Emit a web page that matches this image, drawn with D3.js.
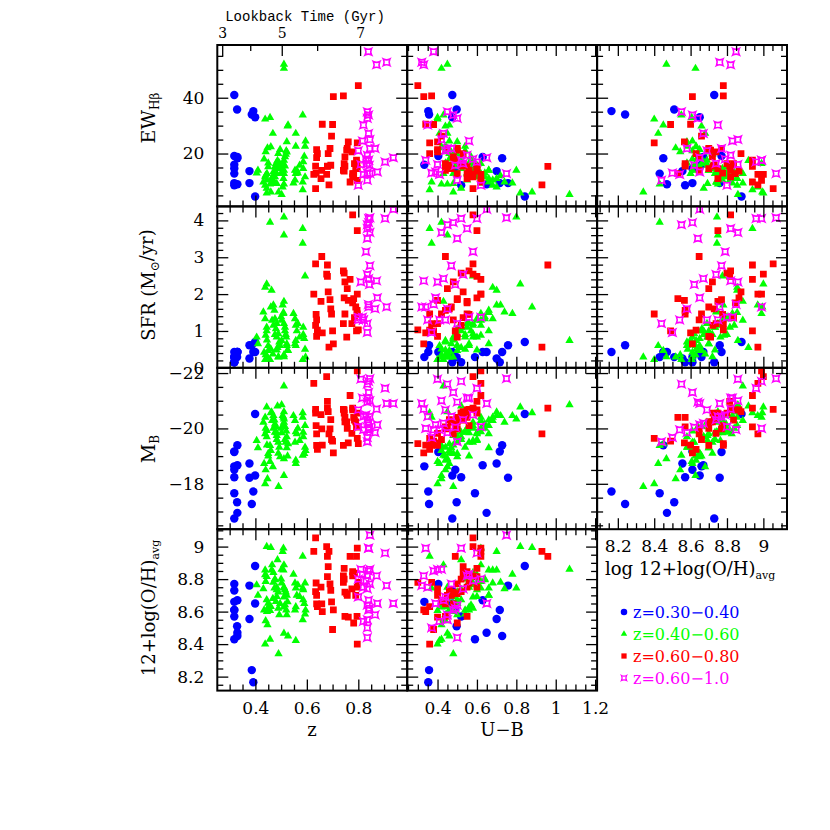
<!DOCTYPE html>
<html>
<head>
<meta charset="utf-8">
<script src="https://cdn.jsdelivr.net/npm/d3@7"></script>
<style>
  body { margin: 0; background: #fff; }
  text { font-family: "DejaVu Serif", serif; fill: #000; }
</style>
</head>
<body>
<div id="chart"></div>
<script>
// ---- data (one entry per galaxy, same index across arrays) ----
var blueZ   = [0.399,0.392,0.386,0.318,0.329,0.399,0.318,0.318,0.377,0.33,0.318,0.377,0.318,0.33,0.318,0.318,0.33];
var blueUB  = [0.843,0.353,0.357,0.475,0.497,0.475,0.404,0.333,0.70,0.728,0.716,0.758,0.59,0.649,0.52,0.49,0.629];
var blueOH  = [8.88,8.165,8.24,8.73,8.51,8.65,8.77,8.66,8.555,8.45,8.61,8.76,8.43,8.47,8.57,8.61,8.67];
var blueEW  = [4.6,35.2,34.0,41.0,35.8,33.0,19.1,16.0,13.7,18.3,9.4,9.4,12.8,9.0,8.6,14.6,18.8];
var blueSFR = [0.70,0.43,0.61,0.15,0.29,0.43,0.43,0.29,0.25,0.43,0.15,0.61,0.29,0.43,0.15,0.29,0.43];
var blueMB  = [-20.52,-17.72,-17.27,-16.75,-17.33,-18.30,-19.15,-18.63,-18.73,-19.39,-19.17,-18.22,-17.66,-16.95,-18.24,-18.51,-18.67];

var greenZ = [0.444,0.438,0.431,0.438,0.44,0.444,0.405,0.444,0.41,0.445,0.45,0.45,0.434,0.44,0.447,0.438,
  0.457,0.46,0.463,0.465,0.47,0.47,0.474,0.476,0.476,0.48,0.483,0.483,0.483,0.486,0.489,0.489,0.493,0.496,0.46,0.468,0.457,0.49,
  0.511,0.502,0.511,0.511,0.506,0.509,0.509,0.50,0.502,0.511,0.515,0.515,0.518,0.52,0.522,0.522,0.525,0.527,0.511,0.511,
  0.548,0.584,0.554,0.584,0.557,0.593,0.561,0.565,0.572,0.586,0.554,0.586,0.59,0.593,0.557,0.595,0.557,0.584];
var greenUB = [0.82,0.68,0.74,0.60,0.62,0.55,0.58,0.52,0.66,0.48,0.50,0.56,0.46,0.44,0.42,0.40,
  0.42,0.88,0.70,0.62,0.72,0.58,0.66,0.54,0.64,0.50,0.60,0.56,0.48,0.52,0.58,0.46,0.44,0.50,0.42,0.45,0.40,0.48,
  0.43,1.07,0.45,0.80,0.70,0.66,0.62,0.64,0.60,0.58,0.52,0.57,0.50,0.54,0.47,0.50,0.44,0.46,0.42,0.45,
  0.78,0.36,0.68,0.37,0.62,0.58,0.66,0.55,0.60,0.52,0.56,0.50,0.48,0.54,0.44,0.46,0.41,0.43];
var greenOH = [9.0,8.856,8.74,8.826,8.785,8.816,8.764,8.672,8.7,8.6,8.651,8.627,8.61,8.543,8.518,8.40,
  8.43,8.994,8.856,8.887,8.78,8.84,8.744,8.8,8.795,8.662,8.734,8.75,8.693,8.918,8.62,8.72,8.58,8.65,8.631,8.68,8.606,8.34,
  8.887,8.86,8.75,8.745,8.969,8.856,8.99,8.8,8.775,8.69,8.734,8.641,8.72,8.61,8.7,8.58,8.66,8.45,8.627,8.467,
  8.83,8.94,8.775,8.745,8.744,8.775,8.7,8.764,8.693,8.734,8.61,8.672,8.65,8.584,8.63,8.61,8.422,8.549];
var greenEW = [5.8,8.6,9.8,11.6,12.2,10.5,13.0,7.5,14.0,12.8,15.2,16.6,18.0,20.6,22.0,32.3,
  9.0,6.2,11.0,9.4,12.0,13.4,9.8,15.2,11.6,16.4,12.8,14.6,9.2,17.5,15.4,20.0,16.6,21.4,22.4,27.2,32.9,6.2,
  12.8,5.3,9.0,14.0,8.0,11.0,16.4,13.0,14.6,17.6,15.5,18.8,19.7,21.0,20.5,24.2,29.8,30.2,50.5,52.0,
  9.4,7.0,10.5,9.8,12.8,11.6,14.0,13.0,15.8,14.6,14.0,17.0,19.0,22.6,22.6,24.5,27.2,33.8];
var greenSFR = [2.27,2.18,1.51,1.33,0.88,1.1,0.83,1.0,0.65,0.75,0.47,0.6,0.42,0.35,0.29,0.22,
  3.95,1.65,2.10,1.29,1.7,1.15,1.56,0.9,1.33,1.06,0.48,1.2,0.83,0.55,0.92,0.3,0.7,0.6,0.51,0.37,0.22,0.29,
  1.8,0.74,3.60,4.09,1.7,1.5,1.47,1.38,1.29,1.2,1.10,1.0,0.9,0.83,0.65,0.6,0.48,0.47,0.35,0.3,
  1.47,3.78,1.33,3.38,1.15,2.49,1.0,1.2,0.83,1.1,0.65,0.9,0.79,0.5,0.74,0.29,0.6,0.22];
var greenMB = [-20.77,-20.4,-20.22,-19.8,-20.0,-19.92,-19.56,-19.7,-19.3,-19.4,-19.09,-19.0,-18.73,-18.5,-18.18,-18.0,
  -19.38,-20.56,-20.59,-20.28,-20.46,-20.0,-20.3,-19.86,-20.16,-20.07,-19.6,-19.84,-19.74,-20.81,-19.5,-19.1,-19.32,-18.97,-19.2,-18.61,-18.8,-17.9,
  -21.53,-20.85,-20.6,-20.34,-20.46,-20.1,-20.4,-20.0,-19.84,-20.22,-19.6,-20.07,-19.5,-19.9,-19.3,-19.7,-19.0,-19.44,-18.30,-18.9,
  -20.46,-20.56,-20.28,-20.4,-19.88,-20.1,-19.8,-20.0,-19.56,-19.86,-19.5,-19.7,-19.09,-19.32,-18.85,-19.2,-18.73,-19.03];

var redZ = [0.627,0.634,0.634,0.636,0.638,0.638,0.641, 0.655,0.658,0.66,
  0.677,0.68,0.68,0.683,0.686,0.69,0.693,0.696,0.70,0.703,
  0.768,0.742,0.745,0.745,0.748,0.748,0.755,0.757,0.761,0.742,
  0.796,0.778,0.778,0.796,0.782,0.785,0.79,0.793,0.795,0.775,0.796,0.80];
var redUB = [0.62,0.58,0.52,0.56,0.48,0.40,0.36, 0.55,0.44,0.34,
  0.58,0.96,0.60,0.53,0.93,0.50,0.46,0.42,0.38,0.33,
  0.62,0.56,0.60,0.52,0.55,0.48,0.50,0.45,0.40,0.37,
  0.62,0.58,0.55,0.60,0.50,0.53,0.47,0.49,0.44,0.40,0.36,0.30];
var redOH = [8.97,9.054,8.723,8.776,8.647,8.7,8.63, 8.75,8.647,8.6,
  9.0,8.94,8.815,8.877,8.97,8.77,8.73,8.66,8.49,8.61,
  8.94,8.82,8.866,8.80,8.57,8.72,8.71,8.70,8.566,8.78,
  8.99,8.82,8.846,8.75,8.53,8.836,8.70,8.94,8.57,8.74,8.40,8.78];
var redEW = [12.5,7.4,15.5,13.0,18.5,21.4,20.0, 11.0,14.0,30.5,
  12.5,15.4,15.5,20.0,8.8,21.8,15.8,26.2,30.4,40.4,
  9.8,14.0,13.7,16.4,15.5,18.8,21.2,21.8,24.2,40.7,
  10.4,11.6,12.8,14.6,12.8,16.4,14.6,17.6,16.4,20.6,23.8,44.3];
var redSFR = [2.0,2.82,1.15,1.45,1.3,0.85,1.02, 1.8,3.02,0.95,
  2.54,2.79,2.48,2.06,0.56,1.85,1.6,1.46,1.0,0.65,
  2.4,2.63,1.9,2.57,1.46,2.33,0.83,2.15,1.83,1.2,
  2.0,4.15,1.76,3.72,1.88,1.36,1.65,1.0,1.56,1.2,1.46,1.03];
var redMB = [-21.63,-20.69,-20.55,-20.1,-19.8,-19.39,-19.24, -20.5,-19.98,-19.4,
  -21.87,-20.73,-20.98,-20.61,-19.8,-19.98,-20.32,-19.6,-19.54,-19.12,
  -21.19,-20.69,-20.67,-20.55,-20.4,-20.24,-20.24,-20.0,-19.48,-19.39,
  -22.08,-20.73,-20.67,-20.55,-20.4,-20.3,-20.24,-20.06,-20.06,-19.82,-19.64,-19.45];

var magZ   = [0.845,0.81,0.84,0.835,0.904,0.84,0.816,0.835,0.845,0.835,0.91,0.936,0.871,0.80,0.83,0.82,0.845,0.835,0.84,0.874,0.80,0.843,0.84,0.82,0.839,0.865,0.835,0.835];
var magUB  = [0.75,0.40,0.52,0.45,0.60,0.48,0.56,0.55,0.42,0.50,0.32,0.65,0.33,0.44,0.58,0.35,0.47,0.53,0.43,0.39,0.62,0.49,0.34,0.41,0.38,0.45,0.37,0.50];
var magOH  = [9.07,8.86,8.99,8.55,8.96,8.61,8.83,8.82,8.86,8.64,8.76,8.65,8.82,8.69,8.79,8.75,8.77,8.74,8.67,8.65,8.80,8.62,8.99,8.54,8.85,8.58,8.50,8.44];
var magEW  = [12.8,16.1,17.6,35.0,17.0,33.8,24.5,19.4,25.0,32.6,52.7,18.5,51.8,21.0,18.0,30.2,21.8,16.4,27.2,13.4,8.6,15.8,17.6,12.5,56.5,21.8,13.0,10.4];
var magSFR = [4.07,2.33,4.05,3.88,4.05,3.94,1.37,3.78,3.67,3.51,1.65,4.30,2.36,1.30,3.15,1.30,2.77,2.53,2.42,1.90,1.37,2.26,1.65,1.30,1.72,1.60,0.96,1.20];
var magMB  = [-21.8,-21.78,-21.7,-21.6,-21.45,-21.3,-21.1,-21.1,-21.0,-20.95,-20.9,-20.9,-20.7,-20.67,-20.49,-20.43,-20.43,-20.31,-20.19,-20.13,-20.06,-20.04,-20.0,-19.95,-19.95,-19.85,-19.67,-19.52];

var legendLabels = ['z=0.30\u22120.40', 'z=0.40\u22120.60', 'z=0.60\u22120.80', 'z=0.60\u22121.0'];

// tick labels
var zTicks = [0.4, 0.6, 0.8];
var ubTicks = [0.4, 0.6, 0.8, 1.0, 1.2];
var ohTicks = [8.2, 8.4, 8.6, 8.8, 9.0];
var ewTicks = [20, 40];
var sfrTicks = [0, 1, 2, 3, 4];
var mbTicks = [-22, -20, -18];
var lookbackGyr = [3, 4, 5, 6, 7];
var lookbackZ = [0.271, 0.38, 0.5025, 0.64, 0.807];
var lookbackLabels = [3, 5, 7];

// ---- layout ----
var padLeft = 217.3, colW = 189.9, padTop = 45, rowH = 161.4;

var svg = d3.select('#chart')
    .append('svg')
    .attr('width', 830)
    .attr('height', 830);

// magenta "crossed square" point style
var starSquare = {
    draw: function (ctx, size) {
        var s = Math.sqrt(size) / 2, k = s * 0.5;
        ctx.moveTo(-s, -s);
        ctx.quadraticCurveTo(0, -k, s, -s);
        ctx.quadraticCurveTo(k, 0, s, s);
        ctx.quadraticCurveTo(0, k, -s, s);
        ctx.quadraticCurveTo(-k, 0, -s, -s);
        ctx.closePath();
    }
};

var groups = [
    {color: '#0000ff', type: d3.symbolCircle, size: 56, fill: true,
     z: blueZ, ub: blueUB, oh: blueOH, ew: blueEW, sfr: blueSFR, mb: blueMB},
    {color: '#00ff00', type: d3.symbolTriangle, size: 30, fill: true,
     z: greenZ, ub: greenUB, oh: greenOH, ew: greenEW, sfr: greenSFR, mb: greenMB},
    {color: '#ff0000', type: d3.symbolSquare, size: 46, fill: true,
     z: redZ, ub: redUB, oh: redOH, ew: redEW, sfr: redSFR, mb: redMB},
    {color: '#ff00ff', type: starSquare, size: 42, fill: false,
     z: magZ, ub: magUB, oh: magOH, ew: magEW, sfr: magSFR, mb: magMB}
];
groups.forEach(function (g, gi) {
    g.label = legendLabels[gi];
    g.rows = g.z.map(function (z, i) {
        return {z: z, ub: g.ub[i], oh: g.oh[i], ew: g.ew[i], sfr: g.sfr[i], mb: g.mb[i]};
    });
});

function minorTicks(scale, step, major) {
    var d = scale.domain(), lo = Math.min(d[0], d[d.length - 1]), hi = Math.max(d[0], d[d.length - 1]);
    return d3.range(Math.ceil(lo / step - 1e-6), Math.floor(hi / step + 1e-6) + 1)
        .map(function (i) { return +(i * step).toFixed(4); })
        .filter(function (v) { return major.indexOf(v) < 0; });
}
function fmt1(d) { return d === 1 || d === 9 ? String(d) : d.toFixed(1); }
function fmtInt(d) { return d < 0 ? '\u2212' + Math.abs(d) : String(d); }

var xVars = [
    {key: 'z', scale: d3.scaleLinear().domain([0.252, 0.99]).range([padLeft, padLeft + colW]),
     major: zTicks, step: 0.05, fmt: fmt1},
    {key: 'ub', scale: d3.scaleLinear().domain([0.246, 1.21]).range([padLeft + colW, padLeft + 2 * colW]),
     major: ubTicks, step: 0.05, fmt: fmt1},
    {key: 'oh', scale: d3.scaleLinear().domain([8.086, 9.13]).range([padLeft + 2 * colW, padLeft + 3 * colW]),
     major: ohTicks, step: 0.05, fmt: fmt1}
];
var yVars = [
    {key: 'ew', scale: d3.scaleLinear().domain([1.05, 58.9]).range([padTop + rowH, padTop]),
     major: ewTicks, step: 5, fmt: fmtInt},
    {key: 'sfr', scale: d3.scaleLinear().domain([0, 4.38]).range([padTop + 2 * rowH, padTop + rowH]),
     major: sfrTicks, step: 0.2, fmt: fmtInt},
    {key: 'mb', scale: d3.scaleLinear().domain([-22.19, -16.36]).range([padTop + 2 * rowH, padTop + 3 * rowH]),
     major: mbTicks, step: 0.5, fmt: fmtInt},
    {key: 'oh', scale: d3.scaleLinear().domain([8.114, 9.107]).range([padTop + 4 * rowH, padTop + 3 * rowH]),
     major: ohTicks, step: 0.05, fmt: fmt1}
];

function tickAxis(g, axisFn, scale, major, minor, fmt, labels, pad, fontSize) {
    g.append('g').call(axisFn(scale).tickValues(minor).tickSize(-6).tickFormat(function () { return ''; }));
    g.append('g').call(axisFn(scale).tickValues(major).tickSize(-11).tickPadding(pad)
        .tickFormat(labels ? fmt : function () { return ''; }));
    g.selectAll('.domain').remove();
    g.selectAll('line').attr('stroke', '#000').attr('stroke-width', 1.3);
    g.selectAll('g').attr('font-family', '"DejaVu Serif", serif').attr('font-size', fontSize || 17);
}

var defs = svg.append('defs');
var panelId = 0;

function drawPanel(r, c) {
    var xv = xVars[c], yv = yVars[r];
    var x0 = xv.scale.range()[0], x1 = xv.scale.range()[1];
    var y0 = padTop + r * rowH, y1 = y0 + rowH;
    var xMinor = minorTicks(xv.scale, xv.step, xv.major);
    var yMinor = minorTicks(yv.scale, yv.step, yv.major);

    var clipId = 'clip' + (panelId++);
    defs.append('clipPath').attr('id', clipId)
        .append('rect').attr('x', x0).attr('y', y0).attr('width', x1 - x0).attr('height', rowH);

    var panel = svg.append('g');
    var pts = panel.append('g').attr('clip-path', 'url(#' + clipId + ')');

    groups.forEach(function (grp) {
        pts.selectAll(null)
            .data(grp.rows)
            .enter().append('path')
            .attr('d', d3.symbol().type(grp.type).size(grp.size))
            .attr('transform', function (d) {
                return 'translate(' + xv.scale(d[xv.key]) + ',' + yv.scale(d[yv.key]) + ')';
            })
            .attr('fill', grp.fill ? grp.color : 'none')
            .attr('stroke', grp.fill ? 'none' : grp.color)
            .attr('stroke-width', 1.6);
    });

    // ticks on all four sides, pointing inward
    var bottomLabels = (r === 3) || (r === 2 && c === 2);
    tickAxis(panel.append('g').attr('transform', 'translate(0,' + y1 + ')'),
        d3.axisBottom, xv.scale, xv.major, xMinor, xv.fmt, bottomLabels, 11);
    tickAxis(panel.append('g').attr('transform', 'translate(' + x0 + ',0)'),
        d3.axisLeft, yv.scale, yv.major, yMinor, yv.fmt, c === 0, 13);
    tickAxis(panel.append('g').attr('transform', 'translate(' + x1 + ',0)'),
        d3.axisRight, yv.scale, yv.major, yMinor, yv.fmt, false, 0);

    if (r === 0 && c === 0) {
        var lbScale = d3.scaleLinear().domain(lookbackGyr).range(lookbackZ.map(xv.scale));
        var lbMinor = lookbackGyr.filter(function (t) { return lookbackLabels.indexOf(t) < 0; });
        tickAxis(panel.append('g').attr('transform', 'translate(0,' + y0 + ')'),
            d3.axisTop, lbScale, lookbackLabels, lbMinor, String, true, 7, 14);
    } else {
        tickAxis(panel.append('g').attr('transform', 'translate(0,' + y0 + ')'),
            d3.axisTop, xv.scale, xv.major, xMinor, xv.fmt, false, 0);
    }

    panel.append('rect')
        .attr('x', x0).attr('y', y0)
        .attr('width', x1 - x0).attr('height', rowH)
        .attr('fill', 'none').attr('stroke', '#000').attr('stroke-width', 2);
}

for (var r = 0; r < 4; r++) {
    for (var c = 0; c < 3; c++) {
        if (r === 3 && c === 2) continue;
        drawPanel(r, c);
    }
}

// ---- titles ----
svg.append('text')
    .attr('x', 305).attr('y', 21)
    .attr('text-anchor', 'middle')
    .style('font-family', '"Liberation Mono", monospace')
    .style('font-size', '14px')
    .text('Lookback Time (Gyr)');

function subLabel(x, y, main, sub, after, rotate, size, subSize) {
    var t = svg.append('text')
        .attr('text-anchor', 'middle')
        .style('font-size', size + 'px')
        .attr('transform', 'translate(' + x + ',' + y + ')' + (rotate ? ' rotate(-90)' : ''));
    t.append('tspan').text(main);
    t.append('tspan').attr('dy', '0.35em').style('font-size', subSize + 'px').text(sub);
    if (after) t.append('tspan').attr('dy', '-0.35em').text(after);
    return t;
}

subLabel(155, 118, 'EW', 'H\u03b2', null, true, 19, 12);
subLabel(155, 285, 'SFR (M', '\u2299', '/yr)', true, 18, 12);
subLabel(155, 449, 'M', 'B', null, true, 19, 12);
subLabel(155, 608, '12+log(O/H)', 'avg', null, true, 18, 11);

svg.append('text').attr('x', 312).attr('y', 736).attr('text-anchor', 'middle')
    .style('font-size', '18px').text('z');
svg.append('text').attr('x', 502).attr('y', 736).attr('text-anchor', 'middle')
    .style('font-size', '18px').text('U\u2212B');

var ohTitle = svg.append('text').attr('x', 605).attr('y', 575).style('font-size', '18px');
ohTitle.append('tspan').text('log 12+log(O/H)');
ohTitle.append('tspan').attr('dy', '0.35em').style('font-size', '11px').text('avg');

// ---- legend ----
var legend = svg.append('g').attr('transform', 'translate(624,612)');
groups.forEach(function (grp, i) {
    var row = legend.append('g').attr('transform', 'translate(0,' + (i * 22) + ')');
    row.append('path')
        .attr('d', d3.symbol().type(grp.type).size(grp.size * 0.6))
        .attr('fill', grp.fill ? grp.color : 'none')
        .attr('stroke', grp.fill ? 'none' : grp.color)
        .attr('stroke-width', 1.3);
    row.append('text')
        .attr('x', 9).attr('y', 6)
        .style('font-size', '16px')
        .style('fill', grp.color)
        .text(grp.label);
});
</script>
</body>
</html>
